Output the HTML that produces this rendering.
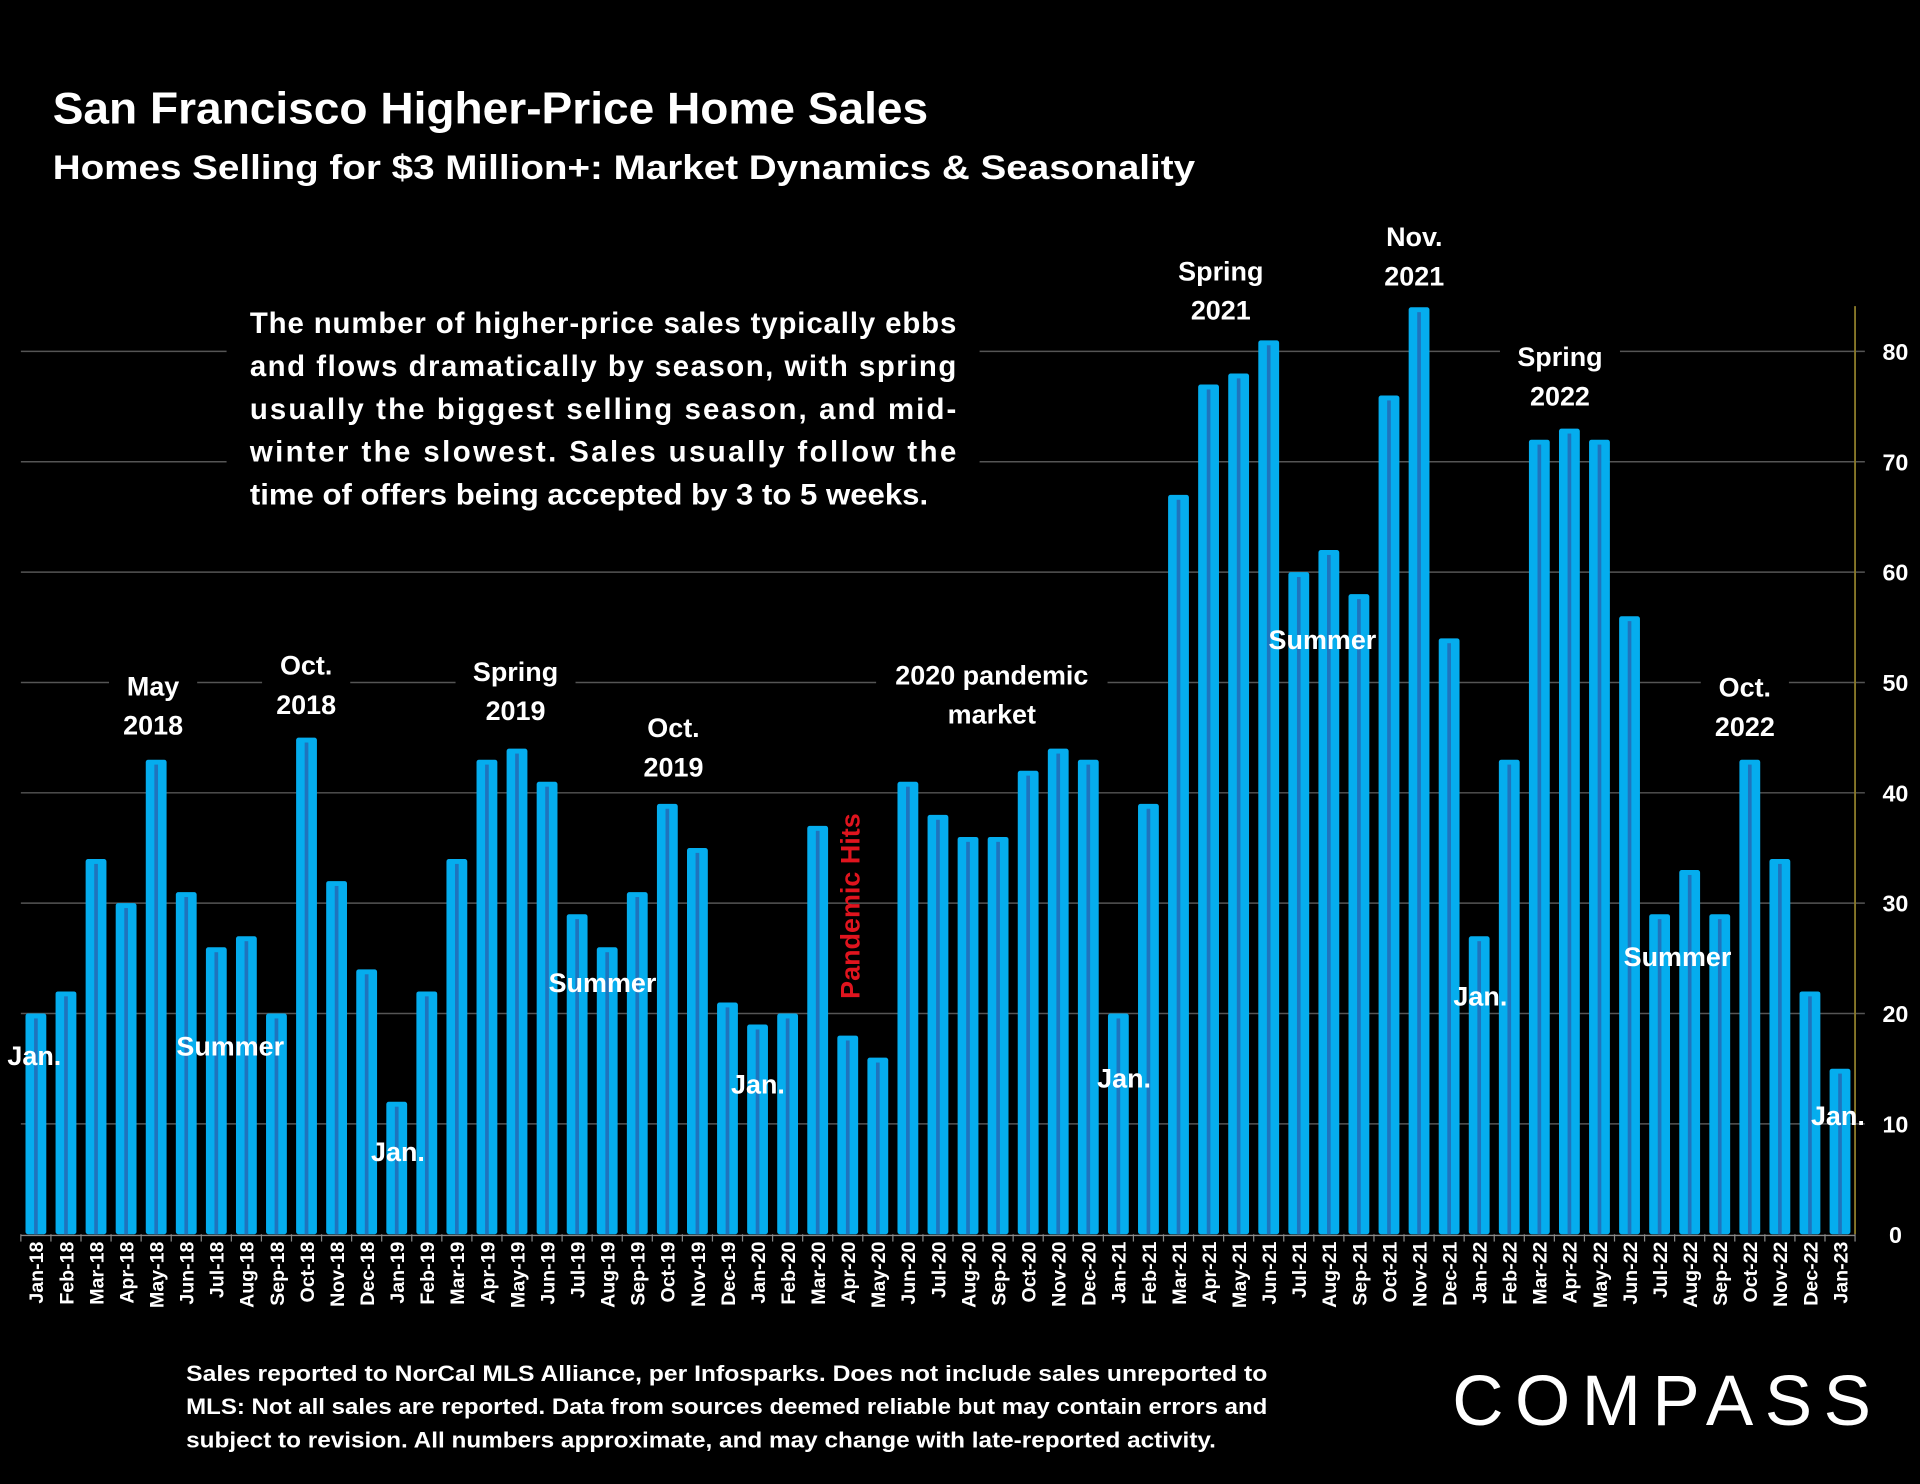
<!DOCTYPE html>
<html><head><meta charset="utf-8"><style>
html,body{margin:0;padding:0;background:#000;}
svg{display:block;}
text{font-family:"Liberation Sans",sans-serif;font-weight:bold;fill:#fff;}
</style></head><body>
<svg id="chart" width="1920" height="1484" viewBox="0 0 1568 1212" xmlns="http://www.w3.org/2000/svg">
<rect width="1568" height="1212" fill="#000"/>
<text x="43" y="101" font-size="36" textLength="715" lengthAdjust="spacingAndGlyphs">San Francisco Higher-Price Home Sales</text>
<text x="43" y="146" font-size="28" textLength="933" lengthAdjust="spacingAndGlyphs">Homes Selling for  $3 Million+: Market Dynamics &amp; Seasonality</text>
<g id="grid"></g>
<g id="bars"></g>
<g id="xlabels"></g>
<g id="annots"></g>
<g font-size="24">
<rect x="185" y="242" width="615" height="180" fill="#000"/>
<text x="204" y="272" textLength="577" lengthAdjust="spacing">The number of higher-price sales typically ebbs</text>
<text x="204" y="307" textLength="577" lengthAdjust="spacing">and flows dramatically by season, with spring</text>
<text x="204" y="342" textLength="577" lengthAdjust="spacing">usually the biggest selling season, and mid-</text>
<text x="204" y="377" textLength="577" lengthAdjust="spacing">winter the slowest. Sales usually follow the</text>
<text x="204" y="412" textLength="554" lengthAdjust="spacingAndGlyphs">time of offers being accepted by 3 to 5 weeks.</text>
</g>
<g font-size="18">
<text x="152" y="1128" textLength="883" lengthAdjust="spacingAndGlyphs">Sales reported to NorCal MLS Alliance, per Infosparks. Does not include sales unreported to</text>
<text x="152" y="1155" textLength="883" lengthAdjust="spacingAndGlyphs">MLS: Not all sales are reported. Data from sources deemed reliable but may contain errors and</text>
<text x="152" y="1182" textLength="841" lengthAdjust="spacingAndGlyphs">subject to revision.  All numbers approximate, and may change with late-reported activity.</text>
</g>
<text x="1186" y="1164" font-size="58" style="font-weight:normal" textLength="342" lengthAdjust="spacing">COMPASS</text>
</svg>
<script>
const categories=["Jan-18","Feb-18","Mar-18","Apr-18","May-18","Jun-18","Jul-18","Aug-18","Sep-18","Oct-18","Nov-18","Dec-18","Jan-19","Feb-19","Mar-19","Apr-19","May-19","Jun-19","Jul-19","Aug-19","Sep-19","Oct-19","Nov-19","Dec-19","Jan-20","Feb-20","Mar-20","Apr-20","May-20","Jun-20","Jul-20","Aug-20","Sep-20","Oct-20","Nov-20","Dec-20","Jan-21","Feb-21","Mar-21","Apr-21","May-21","Jun-21","Jul-21","Aug-21","Sep-21","Oct-21","Nov-21","Dec-21","Jan-22","Feb-22","Mar-22","Apr-22","May-22","Jun-22","Jul-22","Aug-22","Sep-22","Oct-22","Nov-22","Dec-22","Jan-23"];
const sales=[20,22,34,30,43,31,26,27,20,45,32,24,12,22,34,43,44,41,29,26,31,39,35,21,19,20,37,18,16,41,38,36,36,42,44,43,20,39,67,77,78,81,60,62,58,76,84,54,27,43,72,73,72,56,29,33,29,43,34,22,15];
const yTicks=[0,10,20,30,40,50,60,70,80];
const NS="http://www.w3.org/2000/svg";
const L=17,R=1515,Y0=1008,Y80=287;
const band=(R-L)/categories.length;
function xs(i){return L+band*(i+0.5);}
function ys(v){return Y0-(Y0-Y80)*v/80;}
function mk(tag,attrs,parent){const e=document.createElementNS(NS,tag);for(const k in attrs)e.setAttribute(k,attrs[k]);parent.appendChild(e);return e;}
const grid=document.getElementById('grid');
yTicks.forEach(t=>{
  if(t>0){const g=mk('line',{x1:L,x2:R+8,y1:ys(t),y2:ys(t),stroke:'#555','stroke-width':1.2},grid);
  
  }
  const tx=mk('text',{x:1548,y:ys(t)+7,'text-anchor':'middle','font-size':19},grid);
  tx.textContent=t;
  
  
});
const ax=mk('line',{x1:R,x2:R,y1:250,y2:Y0,stroke:'#8a7a2a','stroke-width':1.5},grid);


const xa=mk('line',{x1:L,x2:R,y1:Y0+1,y2:Y0+1,stroke:'#888','stroke-width':1.2},grid);


const bars=document.getElementById('bars'),xl=document.getElementById('xlabels');
for(let i=0;i<=categories.length;i++){mk('line',{x1:L+band*i,x2:L+band*i,y1:Y0,y2:Y0+6,stroke:'#888'},grid);}
categories.forEach((c,i)=>{
  const x=xs(i),y=ys(sales[i]),w=17;
  const b=mk('rect',{x:x-w/2,y:y,width:w,height:Y0-y,rx:2,fill:'#05adee'},bars);
  
  
  mk('rect',{x:x-1.5,y:y+4,width:3,height:Y0-y-4,fill:'#1f74bd'},bars);
  const t=mk('text',{transform:`translate(${x+6},1014) rotate(-90)`,'text-anchor':'end','font-size':16},xl);
  t.textContent=c;
  
  
});
const annots=[
 [["Jan."],28,870],[["May","2018"],125,568],[["Oct.","2018"],250,551],[["Summer"],188,862],[["Jan."],325,948],
 [["Spring","2019"],421,556],[["Oct.","2019"],550,602],[["Summer"],492,810],[["Jan."],619,893],
 [["2020 pandemic","market"],810,559],[["Jan."],918,888],[["Spring","2021"],997,229],[["Nov.","2021"],1155,201],
 [["Summer"],1080,530],[["Spring","2022"],1274,299],[["Jan."],1209,821],[["Summer"],1370,789],[["Oct.","2022"],1425,569],[["Jan."],1501,919]];
const ag=document.getElementById('annots');
annots.forEach(([lines,x,y])=>{
  if(lines.length>1){const wd=Math.max(...lines.map(s=>s.length))*13+20;
    mk('rect',{x:x-wd/2,y:y-26,width:wd,height:lines.length*32+4,fill:'#000'},ag);}
  lines.forEach((s,k)=>{const t=mk('text',{x:x,y:y+k*32,'text-anchor':'middle','font-size':22},ag);
    t.textContent=s;
    
    });
});
const ph=mk('text',{transform:'translate(702,740) rotate(-90)','text-anchor':'middle','font-size':22,style:'fill:#e0141e'},ag);
ph.textContent='Pandemic Hits';


</script>
</body></html>
